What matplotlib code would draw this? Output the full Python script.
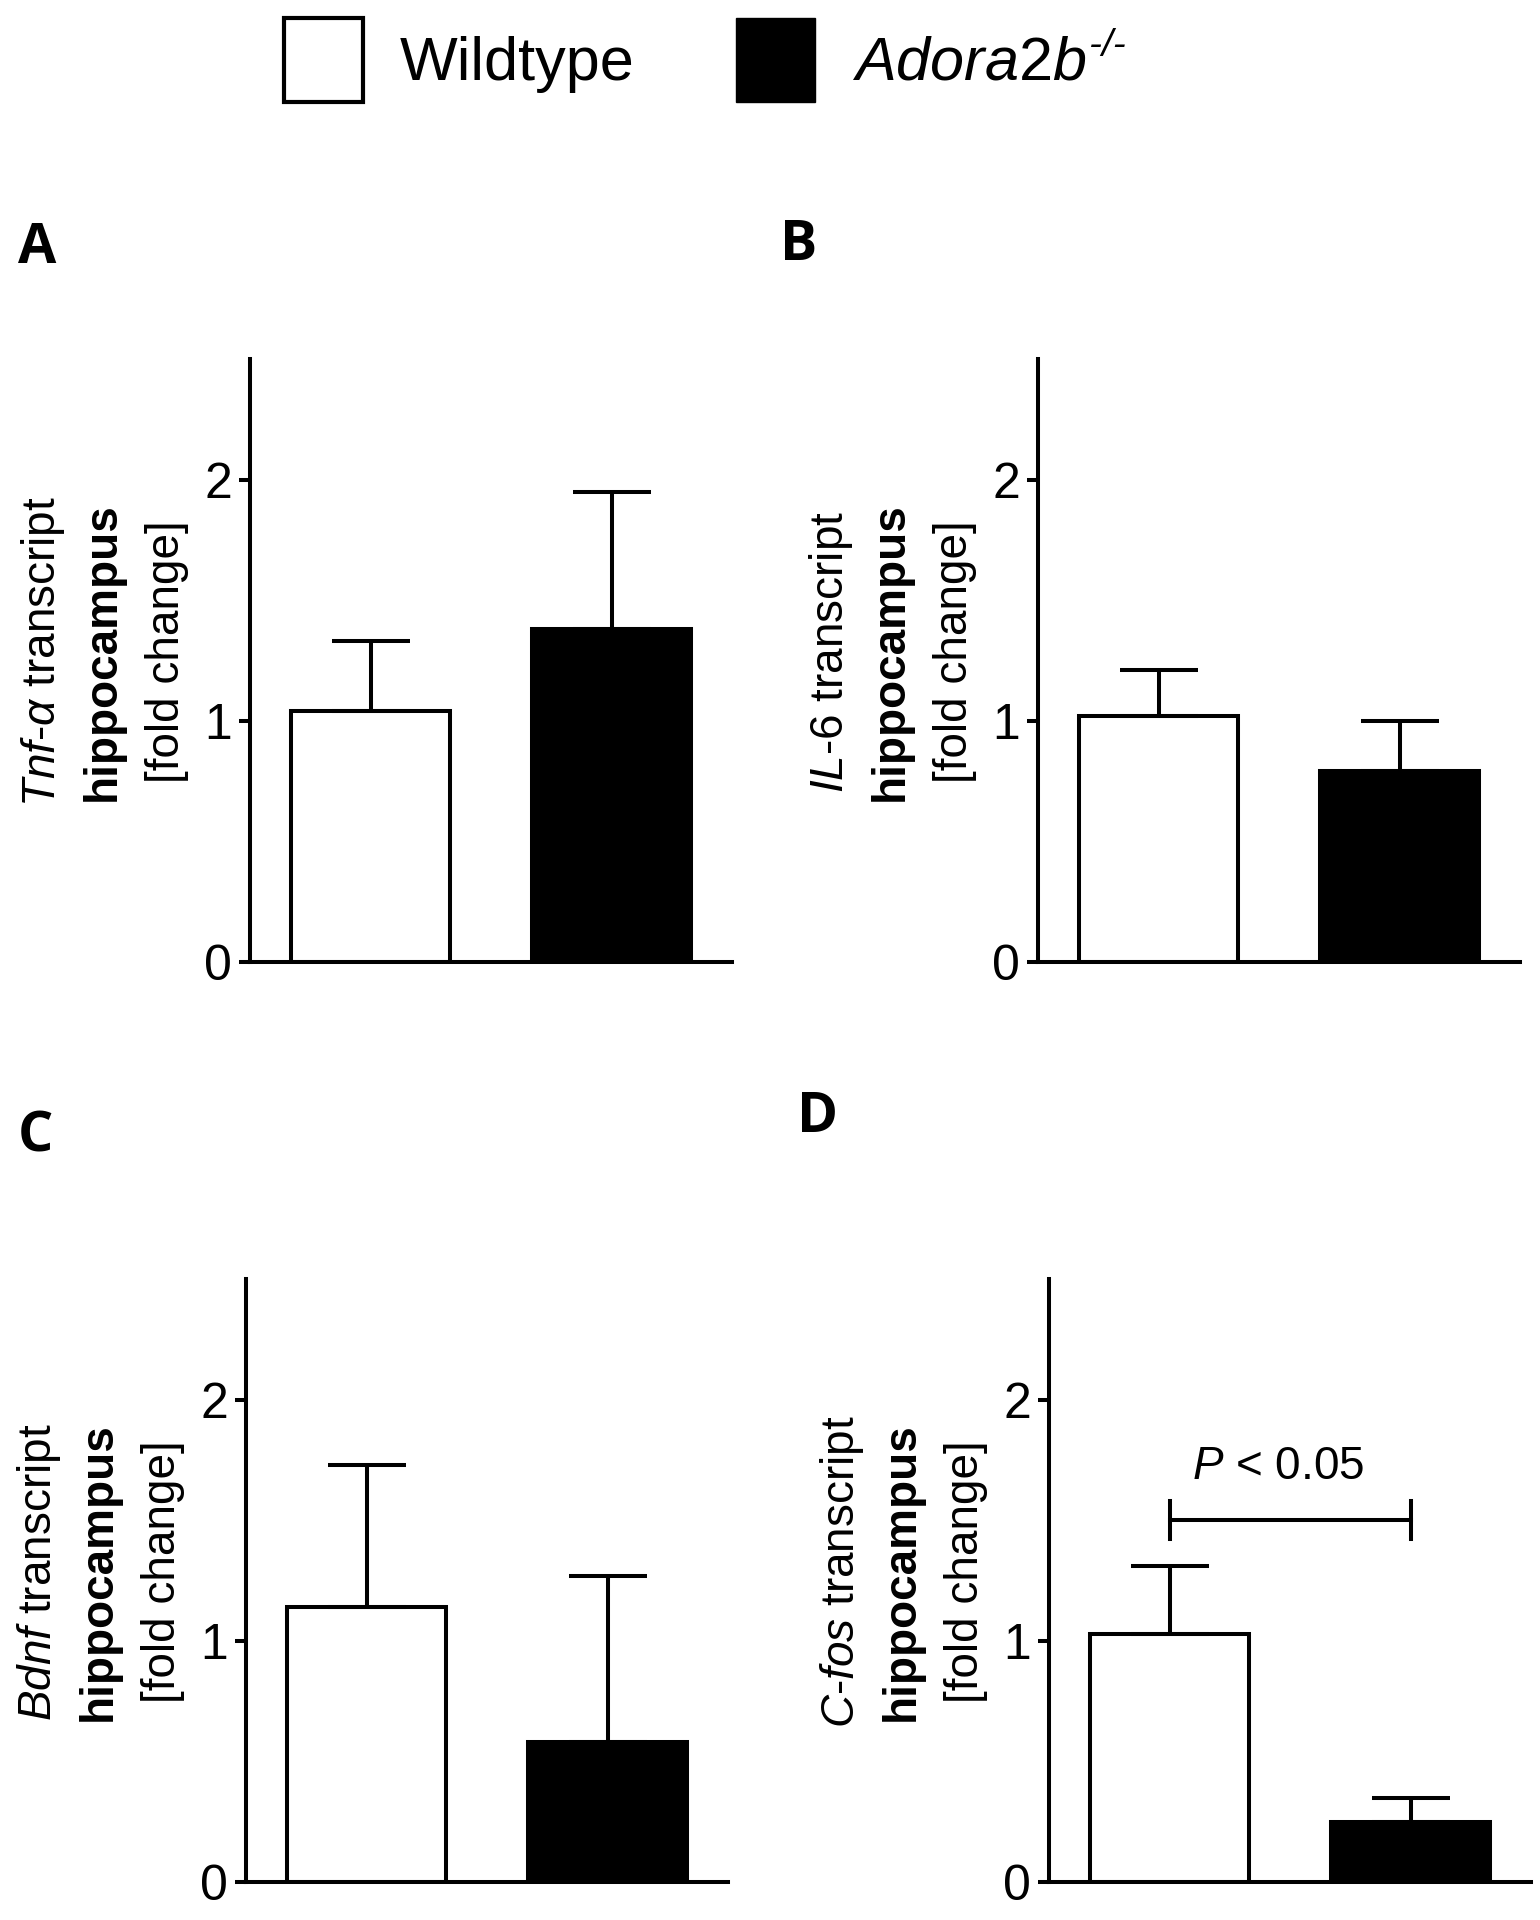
import numpy as np
import matplotlib
matplotlib.use("Agg")
import matplotlib.pyplot as plt
from matplotlib.patches import Patch

plt.rcParams['font.family'] = ['Liberation Sans', 'DejaVu Sans']
plt.rcParams['mathtext.fontset'] = 'custom'
plt.rcParams['mathtext.rm'] = 'Liberation Sans'
plt.rcParams['mathtext.it'] = 'Liberation Sans:italic'
plt.rcParams['mathtext.bf'] = 'Liberation Sans:bold'

# data
groups = ["Wildtype", "Adora2b"]
panels = ["A", "B", "C", "D"]
gene_labels = [r"$\mathit{Tnf}$-$\mathit{\alpha}$ transcript",
               r"$\mathit{IL}$-$\mathit{6}$ transcript",
               r"$\mathit{Bdnf}$ transcript",
               r"$\mathit{C}$-$\mathit{fos}$ transcript"]
wt_mean = [1.04, 1.02, 1.14, 1.03]
wt_err = [0.29, 0.19, 0.59, 0.28]
ko_mean = [1.38, 0.79, 0.58, 0.25]
ko_err = [0.57, 0.21, 0.69, 0.10]
yticks = [0, 1, 2]

W, H = 1540, 1920
fig = plt.figure(figsize=(W / 100, H / 100), dpi=100)

# axes boxes in pixels: left, top, right, bottom
boxes = [(250, 359, 732, 962), (1038, 359, 1520, 962),
         (246, 1279, 728, 1882), (1049, 1279, 1531, 1882)]
letter_pos = [(18, 263), (780, 260), (18, 1151), (797, 1132)]

lw = 2.9
fs = 33
for i in range(4):
    l, t, r, b = boxes[i]
    ax = fig.add_axes([l / W, 1 - b / H, (r - l) / W, (b - t) / H])
    x = np.arange(2)
    ax.bar(x, [wt_mean[i], ko_mean[i]], width=0.66,
           color=['white', 'black'], edgecolor='black', linewidth=lw, zorder=2)
    ax.errorbar(x, [wt_mean[i], ko_mean[i]],
                yerr=[[0, 0], [wt_err[i], ko_err[i]]],
                fmt='none', ecolor='black', elinewidth=lw, capsize=28,
                capthick=lw, zorder=3)
    ax.set_xlim(-0.5, 1.5)
    ax.set_ylim(0, 2.5)
    ax.set_yticks(yticks)
    ax.set_xticks([])
    ax.spines['top'].set_visible(False)
    ax.spines['right'].set_visible(False)
    ax.spines['left'].set_linewidth(lw)
    ax.spines['bottom'].set_linewidth(lw)
    ax.tick_params(axis='y', length=8, width=lw, labelsize=36, pad=5)

    # three-line y label
    pw = r - l
    ax.text(-207 / pw, 0.514, gene_labels[i], transform=ax.transAxes,
            rotation=90, ha='center', va='center', fontsize=fs)
    ax.text(-147 / pw, 0.514, "hippocampus", transform=ax.transAxes,
            rotation=90, ha='center', va='center', fontsize=fs,
            fontweight='bold')
    ax.text(-83 / pw, 0.514, "[fold change]", transform=ax.transAxes,
            rotation=90, ha='center', va='center', fontsize=fs)

    lx, ly = letter_pos[i]
    fig.text(lx / W, 1 - ly / H, panels[i], fontsize=40, fontweight='bold',
             family=['Open Sans', 'DejaVu Sans'], ha='left', va='baseline')

    if i == 3:
        yb = 1.5
        ax.plot([0, 1], [yb, yb], color='black', lw=lw)
        ax.plot([0, 0], [yb - 0.08, yb + 0.08], color='black', lw=lw)
        ax.plot([1, 1], [yb - 0.08, yb + 0.08], color='black', lw=lw)
        ax.text(0.45, 1.72, r"$\mathit{P}$ < 0.05", ha='center',
                va='center', fontsize=fs)

handles = [Patch(facecolor='white', edgecolor='black', linewidth=3),
           Patch(facecolor='black', edgecolor='black', linewidth=1)]
labels = [groups[0], r"$\mathit{%s}$" % groups[1]]
leg = fig.legend(handles, labels, loc='center left',
                 bbox_to_anchor=(284 / W, 1 - 60 / H), ncol=2, frameon=False,
                 fontsize=44, handlelength=1.3, handleheight=1.75,
                 handletextpad=0.6, columnspacing=1.65, borderaxespad=0,
                 borderpad=0)

# superscript -/- after the knockout label
fig.canvas.draw()
bb = leg.get_texts()[1].get_window_extent()
fig.text(bb.x1 / W + 0.002, bb.y1 / H + 0.004, "-/-", fontsize=28,
         style='italic', ha='left', va='top')

fig.savefig("out.png", dpi=100)
